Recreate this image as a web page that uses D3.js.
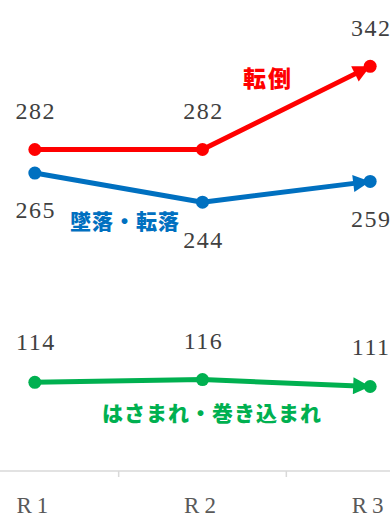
<!DOCTYPE html>
<html>
<head>
<meta charset="utf-8">
<script src="https://cdn.jsdelivr.net/npm/d3@7"></script>
<style>
  html, body { margin: 0; padding: 0; background: #fff; }
  svg { display: block; }
</style>
</head>
<body>
<div id="chart"></div>
<script>
// Accident counts by type, fiscal years R1–R3
const years = ["R1", "R2", "R3"];
const fallsFromHeight = [265, 244, 259];   // 墜落・転落
const tripsAndFalls = [282, 282, 342];     // 転倒
const caughtIn = [114, 116, 111];          // はさまれ・巻き込まれ

const seriesNames = ["転倒", "墜落・転落", "はさまれ・巻き込まれ"];
const seriesValues = [tripsAndFalls, fallsFromHeight, caughtIn];
const seriesColors = ["#ff0000", "#0070c0", "#00b050"];

const W = 390, H = 519;
const svg = d3.select("#chart").append("svg").attr("width", W).attr("height", H);

const x = d3.scaleBand().domain(years).range([-49, 454]);
const cx = d => x(d) + x.bandwidth() / 2;
const y = d3.scaleLinear().domain([50, 400]).range([471, -14]);

const serif = "'Liberation Serif', 'Times New Roman', serif";

// arrowheads for each line
const defs = svg.append("defs");
seriesColors.forEach((c, i) => {
  defs.append("marker")
    .attr("id", "arrow" + i)
    .attr("viewBox", "0 0 10 10")
    .attr("refX", 10).attr("refY", 5)
    .attr("markerUnits", "userSpaceOnUse")
    .attr("markerWidth", 20).attr("markerHeight", 17)
    .attr("orient", "auto")
    .append("path").attr("d", "M0,0 L10,5 L0,10 Z").attr("fill", c);
});

// category axis
const axisG = svg.append("g").attr("transform", `translate(0,471)`);
axisG.append("line").attr("x1", 0).attr("x2", W).attr("y1", 0).attr("y2", 0)
  .attr("stroke", "#d9d9d9").attr("stroke-width", 1.5);
years.slice(1).forEach(yr => {
  axisG.append("line").attr("x1", x(yr)).attr("x2", x(yr)).attr("y1", 0).attr("y2", 6)
    .attr("stroke", "#d9d9d9").attr("stroke-width", 1.5);
});
axisG.selectAll("text.cat").data(years).enter().append("text")
  .attr("class", "cat")
  .attr("x", d => cx(d)).attr("y", 42)
  .attr("text-anchor", "middle")
  .attr("font-family", serif)
  .attr("font-size", 23).attr("letter-spacing", 5)
  .attr("fill", "#595959")
  .text(d => d);

const line = d3.line().x(d => cx(d.yr)).y(d => y(d.v));

seriesValues.forEach((vals, i) => {
  const pts = vals.map((v, j) => ({ yr: years[j], v }));
  const g = svg.append("g");
  g.append("path").datum(pts)
    .attr("d", line)
    .attr("fill", "none")
    .attr("stroke", seriesColors[i])
    .attr("stroke-width", 5)
    .attr("stroke-linejoin", "round")
    .attr("marker-end", `url(#arrow${i})`);
  g.selectAll("circle").data(pts).enter().append("circle")
    .attr("cx", d => cx(d.yr)).attr("cy", d => y(d.v))
    .attr("r", 6.5).attr("fill", seriesColors[i]);
});

// data labels
const labelOffsets = [
  [-31, -31, -30],   // 転倒: above
  [45, 46, 46],      // 墜落・転落: below
  [-32, -31, -31]    // はさまれ: above
];
seriesValues.forEach((vals, i) => {
  vals.forEach((v, j) => {
    svg.append("text")
      .attr("x", cx(years[j]) + 1)
      .attr("y", y(v) + labelOffsets[i][j])
      .attr("text-anchor", "middle")
      .attr("font-family", serif)
      .attr("font-size", 24).attr("letter-spacing", 1.5)
      .attr("fill", "#404040")
      .text(v);
  });
});

// series name labels
const nameSpots = [
  { x: 268, y: 87 },
  { x: 125, y: 229 },
  { x: 212, y: 421 }
];
seriesNames.forEach((n, i) => {
  svg.append("text")
    .attr("x", nameSpots[i].x).attr("y", nameSpots[i].y)
    .attr("text-anchor", "middle")
    .attr("font-family", "'Noto Sans CJK JP', sans-serif")
    .attr("font-weight", 900)
    .attr("font-size", i === 0 ? 23 : 21)
    .attr("letter-spacing", i === 0 ? 2 : 1)
    .attr("fill", seriesColors[i])
    .text(n);
});
</script>
</body>
</html>
